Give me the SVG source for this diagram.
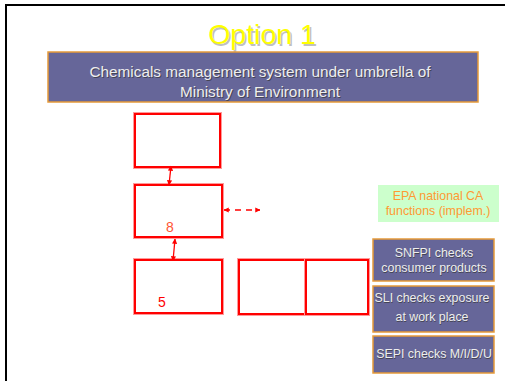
<svg xmlns="http://www.w3.org/2000/svg" width="505" height="381" viewBox="0 0 505 381">
  <style>
    .box-halo { fill: none; stroke: #ff9999; stroke-width: 4; }
    .box { fill: #ffffff; stroke: #ff0000; stroke-width: 2; }
    .purple { fill: #666699; stroke: #e69a3a; stroke-width: 1.5; }
    .ptext { font-family: "Liberation Sans", Arial, sans-serif; font-size: 12.4px; fill: #eeeeee; text-anchor: middle; }
    .pshadow { font-family: "Liberation Sans", Arial, sans-serif; font-size: 12.4px; fill: #444455; text-anchor: middle; }
    .conn { stroke: #ff0000; stroke-width: 1.3; fill: none; }
  </style>
  <defs>
    <marker id="ah" viewBox="0 0 6 6" refX="5.5" refY="3" markerWidth="4" markerHeight="4" orient="auto-start-reverse">
      <path d="M0,0 L6,3 L0,6 Z" fill="#ff0000"/>
    </marker>
  </defs>

  <rect x="0" y="0" width="505" height="381" fill="#ffffff"/>
  <!-- slide frame -->
  <path d="M6,381 L6,5 L505,5" fill="none" stroke="#000000" stroke-width="2"/>

  <!-- title -->
  <g id="title">
    <text x="263.5" y="45.5" font-family="Liberation Sans, Arial, sans-serif" font-size="28.5" fill="#c0c0c0" text-anchor="middle">Option 1</text>
    <text x="262" y="44" font-family="Liberation Sans, Arial, sans-serif" font-size="28.5" fill="#ffff00" text-anchor="middle">Option 1</text>
  </g>

  <!-- banner -->
  <g id="banner">
    <rect x="48" y="52" width="430" height="50" class="purple"/>
    <g font-family="Liberation Sans, Arial, sans-serif" font-size="15.3" text-anchor="middle">
      <text x="261" y="78" fill="#444455">Chemicals management system under umbrella of</text>
      <text x="261" y="98" fill="#444455">Ministry of Environment</text>
      <text x="260" y="77" fill="#eeeeee">Chemicals management system under umbrella of</text>
      <text x="260" y="97" fill="#eeeeee">Ministry of Environment</text>
    </g>
  </g>

  <!-- red boxes -->
  <g id="box1">
    <rect x="135" y="114" width="85" height="53" class="box-halo"/>
    <rect x="135" y="114" width="85" height="53" class="box"/>
  </g>
  <g id="box2">
    <rect x="135" y="185" width="87" height="52" class="box-halo"/>
    <rect x="135" y="185" width="87" height="52" class="box"/>
    <text x="170" y="232" font-family="Liberation Sans, Arial, sans-serif" font-size="14" fill="#ff5533" text-anchor="middle">8</text>
  </g>
  <g id="box3">
    <rect x="135" y="260" width="87" height="53" class="box-halo"/>
    <rect x="135" y="260" width="87" height="53" class="box"/>
    <text x="162" y="307" font-family="Liberation Sans, Arial, sans-serif" font-size="14" fill="#ff0000" text-anchor="middle">5</text>
  </g>
  <g id="box4">
    <rect x="239" y="260" width="67" height="54" class="box-halo"/>
    <rect x="239" y="260" width="67" height="54" class="box"/>
  </g>
  <g id="box5">
    <rect x="306" y="260" width="62" height="54" class="box-halo"/>
    <rect x="306" y="260" width="62" height="54" class="box"/>
  </g>

  <!-- connectors -->
  <g id="connectors">
    <line x1="171" y1="166" x2="169" y2="185" class="conn" marker-start="url(#ah)" marker-end="url(#ah)"/>
    <line x1="175" y1="239" x2="173" y2="261" class="conn" marker-start="url(#ah)" marker-end="url(#ah)"/>
    <line x1="224" y1="210" x2="260" y2="210" class="conn" stroke-dasharray="6,5" marker-start="url(#ah)" marker-end="url(#ah)"/>
  </g>

  <!-- EPA box -->
  <g id="epa">
    <rect x="378" y="185" width="121" height="37" fill="#ccffcc"/>
    <g font-family="Liberation Sans, Arial, sans-serif" font-size="12.4" fill="#ff9933" text-anchor="middle">
      <text x="438" y="200">EPA national CA</text>
      <text x="438" y="215">functions (implem.)</text>
    </g>
  </g>

  <!-- inspectorates -->
  <g id="snfpi">
    <rect x="373" y="239" width="121" height="42" class="purple"/>
    <text x="434.5" y="258" class="pshadow">SNFPI checks</text>
    <text x="434.5" y="273" class="pshadow">consumer products</text>
    <text x="434" y="257" class="ptext">SNFPI checks</text>
    <text x="434" y="272" class="ptext">consumer products</text>
  </g>
  <g id="sli">
    <rect x="373" y="286" width="121" height="46" class="purple"/>
    <text x="432.5" y="303" class="pshadow">SLI checks exposure</text>
    <text x="432.5" y="322" class="pshadow">at work place</text>
    <text x="432" y="302" class="ptext">SLI checks exposure</text>
    <text x="432" y="321" class="ptext">at work place</text>
  </g>
  <g id="sepi">
    <rect x="373" y="336" width="121" height="37" class="purple"/>
    <text x="434.5" y="359" class="pshadow">SEPI checks M/I/D/U</text>
    <text x="434" y="358" class="ptext">SEPI checks M/I/D/U</text>
  </g>
</svg>
